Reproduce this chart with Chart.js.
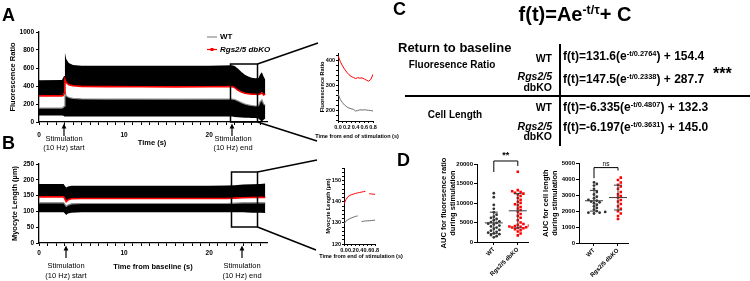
<!DOCTYPE html>
<html>
<head>
<meta charset="utf-8">
<script src="https://cdn.jsdelivr.net/npm/chart.js@4.4.0/dist/chart.umd.min.js"></script>
<style>
  body { margin: 0; background: #fff; }
  #fig { position: relative; width: 750px; height: 281px; overflow: hidden; background: #fff;
         font-family: Arial, "Liberation Sans", Helvetica, sans-serif; color: #000; }
  #fig canvas, #fig svg, #fig .t { position: absolute; }
  .t { white-space: nowrap; line-height: 1; font-weight: bold; }
  .t sup { font-size: 0.62em; vertical-align: 0.55em; line-height: 0; }
</style>
</head>
<body>
<div id="fig">
  <canvas id="cA" width="272" height="116" style="left:0px;top:24px"></canvas>
  <canvas id="cAi" width="62" height="86" style="left:316px;top:45px"></canvas>
  <canvas id="cB" width="272" height="104" style="left:0px;top:156px"></canvas>
  <canvas id="cBi" width="62" height="96" style="left:318px;top:160px"></canvas>
  <canvas id="cD1" width="98" height="136" style="left:437px;top:145px"></canvas>
  <canvas id="cD2" width="98" height="136" style="left:537px;top:145px"></canvas>
  <svg width="750" height="281" style="left:0px;top:0px">
    <g stroke="#000" fill="none" stroke-width="1.5">
      <rect x="230.5" y="64" width="27" height="58"/>
      <line x1="257.5" y1="64" x2="318" y2="43"/>
      <line x1="257.5" y1="122" x2="317" y2="141"/>
      <rect x="231.5" y="172" width="26" height="55"/>
      <line x1="257.5" y1="172" x2="317" y2="160"/>
      <line x1="257.5" y1="227" x2="316" y2="250"/>
      <line x1="560" y1="44" x2="560" y2="146" stroke-width="2"/>
      <line x1="405" y1="96" x2="750" y2="96" stroke-width="2"/>
    </g>
    <g stroke="#000" stroke-width="1.2">
      <line x1="64" y1="136" x2="64" y2="127"/>
      <line x1="232" y1="136" x2="232" y2="127"/>
      <line x1="66" y1="258" x2="66" y2="249"/>
      <line x1="242" y1="258" x2="242" y2="249"/>
    </g>
    <g fill="#000">
      <path d="M61.6 128.5 L64 123.5 L66.4 128.5Z"/>
      <path d="M229.6 128.5 L232 123.5 L234.4 128.5Z"/>
      <path d="M63.6 250.5 L66 245.5 L68.4 250.5Z"/>
      <path d="M239.6 250.5 L242 245.5 L244.4 250.5Z"/>
    </g>
    <line x1="207" y1="37" x2="217" y2="37" stroke="#8c8c8c" stroke-width="1.2"/>
    <line x1="207" y1="49.5" x2="217" y2="49.5" stroke="#ff0000" stroke-width="1.2"/>
    <rect x="210.5" y="48" width="3" height="3" fill="#ff0000"/>
  </svg>
</div>
<script>
// ---- panel A: fluorescence ratio vs time (s)
var timeA    = [0, 2.7, 2.85, 2.95, 3.05, 3.2, 3.5, 4, 5, 8, 12, 16, 20, 22.7, 23.0, 23.4, 23.8, 24.2, 24.6, 25.0, 25.4, 25.8, 26.0, 26.2, 26.4, 26.6];
var koTopA   = [465, 468, 495, 510, 770, 700, 655, 632, 625, 625, 626, 624, 626, 630, 622, 592, 556, 526, 506, 492, 485, 488, 530, 552, 505, 470];
var koMeanA  = [290, 290, 295, 320, 470, 438, 414, 402, 396, 393, 391, 390, 392, 393, 382, 352, 332, 320, 314, 310, 308, 306, 312, 325, 300, 310];
var wtMeanA  = [155, 155, 160, 175, 335, 290, 272, 262, 256, 255, 255, 254, 255, 255, 250, 233, 215, 200, 190, 183, 178, 180, 225, 245, 200, 185];
var wtLowA   = [72, 72, 70, 68, 62, 60, 60, 60, 60, 60, 60, 60, 60, 60, 56, 52, 50, 48, 46, 45, 44, 40, 20, 5, 25, 40];

// panel A inset: time from end of stimulation (s)
var insetTimeA = [0, 0.05, 0.1, 0.15, 0.2, 0.25, 0.3, 0.35, 0.4, 0.45, 0.5, 0.55, 0.6, 0.65, 0.7, 0.75, 0.8];
var insetKoA   = [420, 398, 380, 366, 354, 344, 337, 333, 328, 332, 330, 331, 327, 322, 318, 325, 345];
var insetWtA   = [268, 245, 232, 222, 215, 210, 207, 205, 198, 200, 203, 202, 203, 202, 201, 200, 198];

// ---- panel B: myocyte length (um) vs time from baseline (s)
var timeB   = [0, 2.9, 3.05, 3.2, 3.4, 3.8, 5, 10, 15, 20, 22, 23, 24, 25, 26, 26.6];
var koTopB  = [187, 187, 180, 176, 179, 181, 181, 181, 181, 181, 182, 183, 185, 186, 187, 188];
var koMeanB = [146, 146, 139, 131, 136, 140, 141, 141, 141, 141, 141, 142, 143, 144, 145, 144];
var wtMeanB = [127, 127, 122, 116, 120, 124, 125, 125, 125, 125, 125, 126, 127, 127, 128, 127];
var wtLowB  = [97, 97, 93, 89, 93, 96, 97, 97, 97, 97, 97, 97, 97, 96, 96, 95];

var insetTimeB = [0, 0.05, 0.1, 0.15, 0.2, 0.25, 0.3, 0.35, 0.4, 0.45, 0.5, 0.55, 0.6, 0.65, 0.7, 0.75, 0.8];
var insetKoB   = [139, 141, 142.4, 143, 143.4, 143.7, 144, 144.2, 144.4, 144.6, 144.8, 145, null, 143.8, 143.7, 143.6, 143.5];
var insetWtB   = [129.6, 130.8, 131.5, 132, 132.4, 132.8, 133.1, 133.3, null, 130.6, 130.8, 130.9, 131, 131, 131.1, 131.2, 131.3];

// ---- panel D: AUC during stimulation
var groupLabels = ['WT', 'Rgs2/5 dbKO'];
var aucFluorWT = [12500, 11500, 9500, 8500, 7600, 7000, 6500, 6200, 5900, 5600, 5300, 5100, 4900, 4700, 4500, 4200, 4000, 3700, 3400, 3100, 2900, 2600, 2400, 2200, 2000, 1800, 1500, 1200];
var aucFluorKO = [18000, 13300, 13000, 12800, 12600, 12400, 12200, 11800, 11300, 10800, 10300, 10000, 9700, 9400, 9000, 8600, 8200, 7700, 7200, 6700, 6200, 5600, 5000, 4600, 4400, 4200, 4100, 4000, 3900, 3800, 3700, 3600, 3500, 3300, 3000, 2700, 2200, 1700];
var aucFluorMean = [4900, 8000];
var aucFluorSD   = [2750, 4400];
var aucLenWT = [3800, 3700, 3600, 3400, 3200, 3050, 2900, 2800, 2700, 2650, 2600, 2550, 2500, 2400, 2300, 2200, 2100, 2000, 1950, 1900, 1900, 1850];
var aucLenKO = [4100, 3950, 3800, 3650, 3550, 3400, 3200, 3050, 2950, 2850, 2700, 2600, 2450, 2300, 2150, 2000, 1850, 1700, 1500];
var aucLenMean = [2650, 2850];
var aucLenSD   = [650, 780];

var RED = '#ff0000', GREY = '#8c8c8c';

Chart.defaults.font.family = 'Arial, "Liberation Sans", Helvetica, sans-serif';
Chart.defaults.color = '#000';
Chart.defaults.plugins.legend.display = false;
Chart.defaults.plugins.tooltip.enabled = false;
Chart.defaults.elements.point.radius = 0;
Chart.defaults.elements.line.tension = 0;

function pts(xs, ys) {
    return xs.map(function (x, i) { return { x: x, y: ys[i] }; });
}

function axis(dir, min, max, step, size, fs, cb, pad) {
    return {
        type: 'linear', min: min, max: max,
        border: { color: '#000', width: 1.3 },
        grid: { drawOnChartArea: false, color: '#000', tickLength: 3, lineWidth: 1 },
        ticks: { stepSize: step, autoSkip: false, includeBounds: false, maxRotation: 0, minRotation: 0,
                 padding: pad, font: { size: fs, weight: 'bold' }, callback: cb },
        afterFit: function (s) { if (dir === 'x') s.height = size; else s.width = size; }
    };
}

function yTitle(text, fs, off) {
    return { display: true, text: text, font: { size: fs, weight: 'bold' }, padding: { top: off, bottom: 0 } };
}

function plain(v) { return String(v); }
function every10(v) { return v % 10 === 0 ? String(v) : ''; }
function every100(v) { return v % 100 === 0 ? String(v) : ''; }
function every02(v) { return Math.round(v * 10) % 2 === 0 ? v.toFixed(1) : ''; }

function traceChart(id, t, koTop, koMean, wtMean, wtLow, yMax, yStep, title, titleOff, xPad, xH) {
    var x = axis('x', 0, 26.8, 1, xH, 6.5, every10, xPad);
    var y = axis('y', 0, yMax, yStep, 39, 6.5, plain, 2);
    y.title = yTitle(title, 7.5, titleOff);
    new Chart(document.getElementById(id), {
        type: 'line',
        data: { datasets: [
            { data: pts(t, koTop), borderWidth: 0, fill: '+1', backgroundColor: '#000' },
            { data: pts(t, koMean), borderColor: RED, borderWidth: 1.6, fill: false },
            { data: pts(t, wtMean), borderColor: GREY, borderWidth: 1.2, fill: '+1', backgroundColor: '#000' },
            { data: pts(t, wtLow), borderWidth: 0, fill: false }
        ] },
        options: {
            responsive: false, animation: false,
            layout: { padding: { top: 8, right: 5, left: 0, bottom: 0 } },
            plugins: { filler: { drawTime: 'beforeDatasetsDraw' } },
            scales: { x: x, y: y }
        }
    });
}

function insetChart(id, t, ko, wt, yMin, yMax, yStep, yCb, title, yW, titleOff, padR, xH) {
    var x = axis('x', 0, 0.8, 0.1, xH, 5.5, every02, 1);
    var y = axis('y', yMin, yMax, yStep, yW, 5.5, yCb, 1);
    x.grid.tickLength = 2; y.grid.tickLength = 2;
    x.border.width = 1; y.border.width = 1;
    y.title = yTitle(title, 5.5, titleOff);
    new Chart(document.getElementById(id), {
        type: 'line',
        data: { datasets: [
            { data: pts(t, ko), borderColor: RED, borderWidth: 1, spanGaps: false },
            { data: pts(t, wt), borderColor: '#6e6e6e', borderWidth: 1, spanGaps: false }
        ] },
        options: {
            responsive: false, animation: false,
            layout: { padding: { top: 8, right: padR, left: 0, bottom: 0 } },
            scales: { x: x, y: y }
        }
    });
}

// spread dots sideways so they do not overlap (like a column scatter)
function swarm(values, center, pxY, pxX) {
    var placed = [], out = [];
    var order = values.map(function (v, i) { return i; }).sort(function (a, b) { return values[a] - values[b]; });
    order.forEach(function (i) {
        var py = values[i] * pxY, dx = 0;
        for (var k = 0; k < 20; k++) {
            dx = (k % 2 ? 1 : -1) * Math.ceil(k / 2) * 2.8;
            var hit = placed.some(function (p) { return Math.hypot(p.x - dx, p.y - py) < 3; });
            if (!hit) break;
        }
        placed.push({ x: dx, y: py });
        out[i] = { x: center + dx / pxX, y: values[i] };
    });
    return out;
}

var sigPlugin = {
    id: 'sig',
    afterDraw: function (chart, args, o) {
        var ctx = chart.ctx, xs = chart.scales.x, ys = chart.scales.y;
        ctx.save();
        ctx.lineWidth = 1;
        ctx.strokeStyle = '#3c3c3c';
        o.means.forEach(function (m, i) {
            var x = xs.getPixelForValue(i + 1);
            var ym = ys.getPixelForValue(m), yt = ys.getPixelForValue(m + o.sds[i]), yb = ys.getPixelForValue(m - o.sds[i]);
            ctx.beginPath();
            ctx.moveTo(x - 9, ym); ctx.lineTo(x + 9, ym);
            ctx.moveTo(x, yt); ctx.lineTo(x, yb);
            ctx.moveTo(x - 4, yt); ctx.lineTo(x + 4, yt);
            ctx.moveTo(x - 4, yb); ctx.lineTo(x + 4, yb);
            ctx.stroke();
        });
        var x1 = xs.getPixelForValue(1), x2 = xs.getPixelForValue(2), yb = ys.getPixelForValue(o.bracket[0]);
        ctx.strokeStyle = '#000';
        ctx.beginPath();
        ctx.moveTo(x1, ys.getPixelForValue(o.bracket[1]));
        ctx.lineTo(x1, yb); ctx.lineTo(x2, yb);
        ctx.lineTo(x2, ys.getPixelForValue(o.bracket[2]));
        ctx.stroke();
        ctx.fillStyle = '#000';
        ctx.font = o.font;
        ctx.textAlign = 'center';
        ctx.textBaseline = 'bottom';
        ctx.fillText(o.text, (x1 + x2) / 2, yb - 0.5);
        ctx.restore();
    }
};

function aucChart(id, wt, ko, mean, sd, yMax, yStep, title, yW, titleOff, padTop, xMin, xMax, xH, padR, sig) {
    var plotH = 78, pxY = plotH / yMax, pxX = 24;
    var x = axis('x', xMin, xMax, 1, xH, 6, function (v) { return groupLabels[v - 1]; }, 1);
    x.ticks.maxRotation = 45; x.ticks.minRotation = 45;
    x.afterBuildTicks = function (s) { s.ticks = [{ value: 1 }, { value: 2 }]; };
    x.border.width = 1;
    var y = axis('y', 0, yMax, yStep, yW, 6, plain, 1);
    y.border.width = 1;
    y.title = yTitle(title, 7.5, titleOff);
    y.title.font.lineHeight = 1.15;
    sig.means = mean; sig.sds = sd;
    new Chart(document.getElementById(id), {
        type: 'scatter',
        data: { datasets: [
            { data: swarm(wt, 1, pxY, pxX), pointRadius: 1.4, pointStyle: 'circle', backgroundColor: '#333', borderWidth: 0 },
            { data: swarm(ko, 2, pxY, pxX), pointRadius: 1.8, pointStyle: 'rect', backgroundColor: RED, borderWidth: 0 }
        ] },
        options: {
            responsive: false, animation: false,
            layout: { padding: { top: padTop, right: padR, left: 0, bottom: 0 } },
            plugins: { sig: sig },
            scales: { x: x, y: y }
        },
        plugins: [sigPlugin]
    });
}

traceChart('cA', timeA, koTopA, koMeanA, wtMeanA, wtLowA, 1000, 200, 'Fluorescence Ratio', 8, 6, 18);
traceChart('cB', timeB, koTopB, koMeanB, wtMeanB, wtLowB, 250, 50, 'Myocyte Length (\u00b5m)', 10.5, 3, 17);
insetChart('cAi', insetTimeA, insetKoA, insetWtA, 158, 431, 20, every100, 'Fluorescence Ratio', 22, 2.7, 5, 10);
insetChart('cBi', insetTimeB, insetKoB, insetWtB, 120, 156, 2, every10, 'Myocyte Length (\u00b5m)', 26, 6.7, 3, 12);
aucChart('cD1', aucFluorWT, aucFluorKO, aucFluorMean, aucFluorSD, 20000, 5000,
    ['AUC for fluoresence ratio', 'during stimulation'], 40, 3, 19, 0.3, 2.45, 39, 6.4,
    { bracket: [20770, 17950, 19490], text: '**', font: 'bold 9px Arial, "Liberation Sans", sans-serif' });
aucChart('cD2', aucLenWT, aucLenKO, aucLenMean, aucLenSD, 5000, 1000,
    ['AUC for cell length', 'during stimulation'], 42, 5, 18.3, 0.375, 2.417, 38, 7,
    { bracket: [4730, 4060, 4550], text: 'ns', font: '6.5px Arial, "Liberation Sans", sans-serif' });

// ---- text labels: [html, x, y(center), size, align, extra css]
var labels = [
    ['A', 2, 15, 18, 'l'], ['B', 2, 143, 18, 'l'], ['C', 393, 9, 18, 'l'], ['D', 397, 160, 18, 'l'],
    ['WT', 220, 37, 8, 'l'], ['Rgs2/5 dbKO', 220, 49.5, 8, 'l', 'font-style:italic'],
    ['Time (s)', 152, 143, 7.5, 'c'],
    ['Stimulation', 64, 138.5, 7.5, 'c', 'font-weight:normal'], ['(10 Hz) start', 64, 147.5, 7.5, 'c', 'font-weight:normal'],
    ['Stimulation', 233, 138.5, 7.5, 'c', 'font-weight:normal'], ['(10 Hz) end', 233, 147.5, 7.5, 'c', 'font-weight:normal'],
    ['Time from baseline (s)', 153, 266.5, 7.5, 'c'],
    ['Stimulation', 66, 266, 7.5, 'c', 'font-weight:normal'], ['(10 Hz) start', 66, 275.5, 7.5, 'c', 'font-weight:normal'],
    ['Stimulation', 242, 266, 7.5, 'c', 'font-weight:normal'], ['(10 Hz) end', 242, 275.5, 7.5, 'c', 'font-weight:normal'],
    ['Time from end of stimulation (s)', 357, 137, 5.5, 'c'],
    ['Time from end of stimulation (s)', 361, 257, 5.5, 'c'],
    ['f(t)=Ae<sup>-t/\u03c4</sup>+ C', 575, 14, 20, 'c'],
    ['Return to baseline', 398, 46.5, 13, 'l'],
    ['Fluoresence Ratio', 452, 65, 10, 'c'],
    ['WT', 552, 58, 10.5, 'r'], ['Rgs2/5', 552, 76, 10.5, 'r', 'font-style:italic'], ['dbKO', 552, 87, 10.5, 'r'],
    ['f(t)=131.6(e<sup>-t/0.2764</sup>) + 154.4', 563, 56, 12, 'l'],
    ['f(t)=147.5(e<sup>-t/0.2338</sup>) + 287.7', 563, 79, 12, 'l'],
    ['***', 713, 74, 16, 'l'],
    ['Cell Length', 455, 115, 10, 'c'],
    ['WT', 552, 107, 10.5, 'r'], ['Rgs2/5', 552, 126, 10.5, 'r', 'font-style:italic'], ['dbKO', 552, 136, 10.5, 'r'],
    ['f(t)=-6.335(e<sup>-t/0.4807</sup>) + 132.3', 563, 107, 12, 'l'],
    ['f(t)=-6.197(e<sup>-t/0.3631</sup>) + 145.0', 563, 127, 12, 'l']
];
var fig = document.getElementById('fig');
labels.forEach(function (l) {
    var d = document.createElement('div');
    d.className = 't';
    d.innerHTML = l[0];
    var tx = l[4] === 'c' ? '-50%' : (l[4] === 'r' ? '-100%' : '0');
    d.style.cssText = 'left:' + l[1] + 'px;top:' + l[2] + 'px;font-size:' + l[3] + 'px;transform:translate(' + tx + ',-50%);' + (l[5] || '');
    fig.appendChild(d);
});
</script>
</body>
</html>
